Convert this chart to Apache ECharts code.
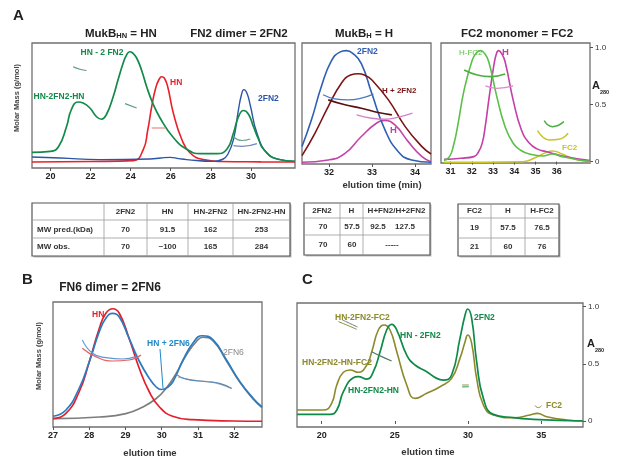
<!DOCTYPE html>
<html><head><meta charset="utf-8">
<script src="https://cdn.jsdelivr.net/npm/echarts@6/dist/echarts.min.js"></script>
<style>html,body{margin:0;padding:0;background:#fff}#c{width:617px;height:463px}</style>
</head><body><div id="c"></div>
<script>
// ---------- Panel A (left): MukB_HN / FN2 dimer ----------
const aTicks = [20, 22, 24, 26, 28, 30];
const aGreen = [[19.08,0.125],[20.0,0.133],[20.4,0.17],[20.8,0.33],[21.05,0.47],[21.38,0.528],[21.63,0.52],[21.97,0.48],[22.3,0.41],[22.55,0.39],[22.8,0.43],[23.13,0.57],[23.38,0.71],[23.63,0.84],[23.8,0.905],[23.95,0.93],[24.1,0.92],[24.3,0.88],[24.55,0.78],[24.8,0.65],[25.1,0.52],[25.47,0.40],[26.1,0.25],[26.8,0.15],[27.47,0.115],[28.3,0.115],[28.8,0.15],[29.13,0.28],[29.38,0.41],[29.63,0.46],[29.88,0.43],[30.13,0.33],[30.38,0.23],[30.63,0.15],[31.3,0.072],[32.2,0.053]];
const aRed = [[19.08,0.048],[22.0,0.052],[24.13,0.059],[24.63,0.147],[24.85,0.3],[25.05,0.49],[25.25,0.64],[25.42,0.71],[25.55,0.73],[25.68,0.72],[25.85,0.65],[26.13,0.44],[26.55,0.23],[26.97,0.12],[27.63,0.067],[28.5,0.052],[30.5,0.049],[32.2,0.048]];
const aBlue = [[19.08,0.088],[20.5,0.08],[22.47,0.067],[24.97,0.072],[25.5,0.08],[25.97,0.085],[26.4,0.075],[26.8,0.067],[28.13,0.053],[28.6,0.07],[28.85,0.11],[29.13,0.227],[29.38,0.467],[29.52,0.58],[29.65,0.627],[29.8,0.6],[29.97,0.5],[30.3,0.28],[30.8,0.12],[31.47,0.067],[32.2,0.053]];
const aFragG1 = [[21.13,0.81],[21.47,0.79],[21.8,0.78]];
const aFragG2 = [[23.72,0.515],[24.3,0.48]];
const aFragR = [[25.05,0.32],[25.75,0.32]];
const aFragG3 = [[29.13,0.248],[29.55,0.22],[29.97,0.232]];
const aFragB = [[29.13,0.179],[29.55,0.173],[30.3,0.195]];

// ---------- Panel A (middle): MukB_H ----------
const bTicks = [32, 33, 34];
const bBlue = [[31.37,0.144],[31.59,0.365],[31.82,0.64],[32.05,0.85],[32.25,0.925],[32.4,0.937],[32.55,0.915],[32.75,0.83],[32.99,0.586],[33.3,0.282],[33.61,0.102],[33.92,0.033],[34.37,0.014]];
const bDark = [[31.37,0.069],[31.67,0.254],[31.98,0.475],[32.29,0.67],[32.5,0.735],[32.68,0.746],[32.85,0.73],[32.99,0.696],[33.38,0.53],[33.77,0.309],[34.16,0.144],[34.37,0.083]];
const bMag = [[31.37,0.014],[31.98,0.033],[32.37,0.088],[32.75,0.227],[33.1,0.337],[33.3,0.359],[33.53,0.323],[33.84,0.185],[34.16,0.061],[34.37,0.019]];
const bFragB = [[31.86,0.572],[32.13,0.539],[32.44,0.53],[32.75,0.544],[33.03,0.577]];
const bFragD = [[31.98,0.53],[32.37,0.489],[32.75,0.461],[33.14,0.425],[33.46,0.406]];
const bFragM = [[32.64,0.406],[32.99,0.378],[33.3,0.37],[33.61,0.387],[33.94,0.42]];

// ---------- Panel A (right): FC2 monomer, A280 ----------
const cTicks = [31, 32, 33, 34, 35, 36];
const aTicksA280 = [0, 0.5, 1];
const cGreen = [[30.69,0.009],[30.95,0.044],[31.15,0.15],[31.33,0.307],[31.64,0.629],[32.02,0.89],[32.22,0.955],[32.41,0.974],[32.6,0.95],[32.8,0.877],[33.18,0.57],[33.57,0.307],[33.95,0.161],[34.3,0.1],[34.72,0.067],[35.34,0.05],[35.8,0.067],[36.26,0.044],[37.03,0.015],[37.58,0.003]];
const cMag = [[30.69,0.02],[31.5,0.03],[32.1,0.044],[32.3,0.08],[32.49,0.16],[32.65,0.33],[32.8,0.54],[33.03,0.833],[33.15,0.94],[33.26,0.974],[33.4,0.95],[33.57,0.877],[33.95,0.54],[34.34,0.278],[34.72,0.161],[35.1,0.11],[35.49,0.088],[36.26,0.05],[37.58,0.009]];
const cYel = [[30.69,-0.006],[34.41,0],[35.03,0.038],[35.49,0.079],[35.8,0.094],[36.26,0.067],[36.88,0.02],[37.58,0]];
const cFragG = [[31.64,0.804],[32.26,0.76],[32.87,0.746],[33.57,0.769]];
const cFragM = [[32.64,0.664],[33.18,0.643],[33.95,0.664]];
const cFragG2 = [[35.41,0.36],[35.8,0.307],[36.34,0.351]];
const cFragY = [[35.1,0.272],[35.65,0.19],[36.1,0.196],[36.54,0.249]];

// ---------- Panel B: FN6 dimer ----------
const dTicks = [27, 28, 29, 30, 31, 32];
const dRed = [[27.0,0.067],[27.35,0.107],[27.72,0.28],[28.0,0.52],[28.28,0.79],[28.46,0.91],[28.65,0.946],[28.83,0.91],[29.1,0.71],[29.38,0.47],[29.66,0.28],[29.94,0.16],[30.3,0.086],[30.86,0.059],[31.97,0.048],[32.77,0.046]];
const dBlue = [[27.0,0.086],[27.35,0.134],[27.72,0.308],[28.0,0.52],[28.28,0.764],[28.46,0.87],[28.65,0.909],[28.83,0.88],[29.1,0.71],[29.38,0.528],[29.66,0.389],[29.85,0.32],[29.99,0.30],[30.15,0.315],[30.31,0.362],[30.59,0.536],[30.86,0.67],[31.12,0.73],[31.42,0.697],[31.79,0.536],[32.16,0.362],[32.53,0.228],[32.77,0.16]];
const dGray = [[27.0,0.067],[28.28,0.08],[29.01,0.107],[29.48,0.16],[29.85,0.228],[30.12,0.308],[30.4,0.429],[30.68,0.576],[30.96,0.684],[31.14,0.718],[31.42,0.689],[31.79,0.528],[32.16,0.357],[32.53,0.223],[32.77,0.155]];
const dFragB1 = [[27.81,0.697],[28.09,0.59],[28.46,0.555],[28.92,0.544],[29.29,0.563]];
const dFragR1 = [[27.81,0.63],[28.18,0.563],[28.65,0.528],[29.1,0.536],[29.43,0.576]];
const dFragB2 = [[30.4,0.421],[30.68,0.383],[31.23,0.362],[31.6,0.349],[31.93,0.308]];
const dFragG2 = [[30.45,0.4],[30.86,0.375],[31.42,0.357],[31.93,0.31]];

// ---------- Panel C ----------
const eTicks = [20, 25, 30, 35];
const eOlive = [[18.31,0.096],[20.11,0.096],[20.68,0.155],[21.03,0.315],[21.48,0.426],[21.94,0.446],[22.5,0.426],[23.08,0.49],[23.42,0.606],[23.87,0.796],[24.26,0.84],[24.67,0.796],[25.13,0.606],[25.81,0.315],[26.38,0.198],[27.18,0.242],[28.09,0.3],[28.88,0.373],[29.45,0.548],[29.8,0.694],[29.98,0.752],[30.25,0.679],[30.59,0.373],[31.05,0.14],[31.73,0.052],[33.1,0.029],[34.24,0.052],[34.74,0.067],[35.38,0.038],[36.74,0.009],[37.86,0]];
const eGreen = [[18.31,0.058],[20.57,0.058],[21.03,0.096],[21.48,0.257],[22.16,0.379],[22.5,0.388],[23.08,0.367],[23.53,0.431],[23.99,0.606],[24.44,0.796],[24.78,0.845],[25.13,0.796],[25.81,0.577],[26.38,0.49],[27.18,0.431],[27.86,0.373],[28.31,0.358],[28.88,0.402],[29.45,0.723],[29.8,0.927],[29.98,0.98],[30.25,0.898],[30.59,0.519],[31.05,0.198],[31.73,0.058],[33.1,0.029],[34.47,0.015],[37.86,0]];
const eFragO1 = [[21.14,0.869],[21.71,0.84],[22.39,0.802]];
const eFragO2 = [[21.4,0.885],[21.9,0.855],[22.45,0.822]];
const eFragG = [[23.42,0.606],[24.1,0.563],[24.78,0.525]];
const eFragEq1 = [[29.6,0.315],[30.05,0.315]];
const eFragEq2 = [[29.6,0.298],[30.05,0.3]];
const eFragF = [[34.58,0.134],[34.81,0.117],[35.03,0.134]];

// ---------- Tables ----------
const t1Head = ['', '2FN2', 'HN', 'HN-2FN2', 'HN-2FN2-HN'];
const t1Pred = ['MW pred.(kDa)', '70', '91.5', '162', '253'];
const t1Obs = ['MW obs.', '70', '~100', '165', '284'];
const t2Head = ['2FN2', 'H', 'H+FN2/H+2FN2'];
const t2Pred = ['70', '57.5', '92.5', '127.5'];
const t2Obs = ['70', '60', '-----'];
const t3Head = ['FC2', 'H', 'H-FC2'];
const t3Pred = ['19', '57.5', '76.5'];
const t3Obs = ['21', '60', '76'];

const FONT = 'Arial, "Liberation Sans", Helvetica, sans-serif';

function ln(data, gi, color, width, z) {
  return {type: 'line', data: data, xAxisIndex: gi, yAxisIndex: gi, showSymbol: false, symbol: 'none',
    smooth: 0.5, lineStyle: {color: color, width: width}, z: z || 2, silent: true, animation: false};
}
function grid(l, t, w, h) {
  return {left: l, top: t, width: w, height: h, show: true, borderColor: '#707070', borderWidth: 1.3, backgroundColor: 'transparent'};
}
function xa(gi, min, max, ticks) {
  return {type: 'value', gridIndex: gi, min: min, max: max, axisLine: {show: false},
    axisTick: {show: true, length: 3, customValues: ticks, lineStyle: {color: '#555', width: 1}},
    axisLabel: {customValues: ticks, fontSize: 9, fontWeight: 'bold', color: '#222', fontFamily: FONT, margin: 4},
    splitLine: {show: false}};
}
function yHidden(gi) {
  return {type: 'value', gridIndex: gi, min: 0, max: 1, show: false};
}
function yRight(gi, min, max) {
  return {type: 'value', gridIndex: gi, min: min, max: max, position: 'right', axisLine: {show: false},
    axisTick: {show: true, length: 3, customValues: aTicksA280, lineStyle: {color: '#555'}},
    axisLabel: {customValues: aTicksA280, formatter: function (v) { return v === 0 ? '0' : v.toFixed(1); },
      fontSize: 8, color: '#333', fontFamily: FONT, margin: 5},
    splitLine: {show: false}};
}
function tx(x, y, text, o) {
  o = o || {};
  return {type: 'text', x: x, y: y, rotation: o.rot || 0, z: 100, silent: true,
    style: {text: text, fill: o.c || '#222', fontSize: o.fs || 8.5, fontWeight: o.fw || 'bold', fontFamily: FONT,
      align: o.al || 'center', verticalAlign: o.va || 'middle', textAlign: o.al || 'center', textVerticalAlign: o.va || 'middle',
      rich: o.rich}};
}
function lineG(x1, y1, x2, y2, c, w) {
  return {type: 'line', z: 90, silent: true, shape: {x1: x1, y1: y1, x2: x2, y2: y2}, style: {stroke: c, lineWidth: w}};
}
function table(cols, rows) {
  const els = [];
  const l = cols[0], r = cols[cols.length - 1], t = rows[0], b = rows[rows.length - 1];
  els.push({type: 'rect', z: 80, shape: {x: l + 1.5, y: t + 1.5, width: r - l, height: b - t}, style: {fill: '#bbb'}});
  els.push({type: 'rect', z: 81, shape: {x: l, y: t, width: r - l, height: b - t}, style: {fill: '#fff', stroke: '#555', lineWidth: 1.2}});
  for (let i = 1; i < rows.length - 1; i++) els.push(lineG(l, rows[i], r, rows[i], '#999', 0.8));
  cols.slice(1, -1).forEach(function (x) { els.push(lineG(x, t, x, b, '#999', 0.8)); });
  return els;
}

const tfs = {fs: 8, c: '#333'};
const graphics = [];
graphics.push(tx(13, 16, 'A', {fs: 15, al: 'left', c: '#222'}));
graphics.push(tx(22, 280, 'B', {fs: 15, al: 'left', c: '#222'}));
graphics.push(tx(302, 280, 'C', {fs: 15, al: 'left', c: '#222'}));
const sub = {s: {fontSize: 7.5, fontWeight: 'bold', fontFamily: FONT, fill: '#222', verticalAlign: 'bottom', padding: [3, 0, 0, 0]},
             m: {fontSize: 11.5, fontWeight: 'bold', fontFamily: FONT, fill: '#222'}};
graphics.push(tx(85, 34, '{m|MukB}{s|HN}{m| = HN}', {al: 'left', rich: sub}));
graphics.push(tx(239, 34, 'FN2 dimer = 2FN2', {fs: 11.5}));
graphics.push(tx(335, 34, '{m|MukB}{s|H}{m| = H}', {al: 'left', rich: sub}));
graphics.push(tx(517, 34, 'FC2 monomer = FC2', {fs: 11.5}));
graphics.push(tx(110, 288, 'FN6 dimer = 2FN6', {fs: 12}));
graphics.push(tx(17, 98, 'Molar Mass (g/mol)', {rot: Math.PI / 2, fs: 7.5, c: '#444'}));
graphics.push(tx(39, 356, 'Molar Mass (g/mol)', {rot: Math.PI / 2, fs: 7.5, c: '#444'}));
graphics.push(tx(382, 185, 'elution time (min)', {fs: 9.5, c: '#333'}));
graphics.push(tx(150, 453, 'elution time', {fs: 9.5, c: '#333'}));
graphics.push(tx(428, 452, 'elution time', {fs: 9.5, c: '#333'}));
graphics.push(tx(592, 86, 'A', {fs: 11, al: 'left', c: '#222'}));
graphics.push(tx(600, 92, '280', {fs: 5.5, al: 'left', c: '#222'}));
graphics.push(tx(587, 344, 'A', {fs: 11, al: 'left', c: '#222'}));
graphics.push(tx(595, 350, '280', {fs: 5.5, al: 'left', c: '#222'}));
graphics.push(tx(102, 53, 'HN - 2 FN2', {c: '#138a4a'}));
graphics.push(tx(59, 97, 'HN-2FN2-HN', {c: '#138a4a'}));
graphics.push(tx(170, 83, 'HN', {al: 'left', c: '#e8212a'}));
graphics.push(tx(258, 99, '2FN2', {al: 'left', c: '#2d55a5'}));
graphics.push(tx(357, 52, '2FN2', {al: 'left', c: '#2f5fb3'}));
graphics.push(tx(382, 91, 'H + 2FN2', {al: 'left', c: '#7b1416', fs: 8}));
graphics.push(tx(390, 130, 'H', {al: 'left', c: '#c443a8', fs: 9.5}));
graphics.push(tx(459, 53, 'H-FC2', {al: 'left', c: '#5cbf4a', fs: 8, fw: 'normal'}));
graphics.push(tx(502, 52, 'H', {al: 'left', c: '#c43fa6', fs: 9.5}));
graphics.push(tx(562, 148, 'FC2', {al: 'left', c: '#c9c526', fs: 8}));
graphics.push(tx(92, 315, 'HN', {al: 'left', c: '#e31e2d'}));
graphics.push(tx(147, 344, 'HN + 2FN6', {al: 'left', c: '#1f88c8'}));
graphics.push(lineG(160, 349, 163, 388, '#1f88c8', 1));
graphics.push(tx(223, 353, '2FN6', {al: 'left', c: '#888', fw: 'normal', fs: 8.5}));
graphics.push(tx(335, 318, 'HN-2FN2-FC2', {al: 'left', c: '#8c8a2c'}));
graphics.push(tx(400, 336, 'HN - 2FN2', {al: 'left', c: '#0f8a48'}));
graphics.push(tx(474, 318, '2FN2', {al: 'left', c: '#0f8a48'}));
graphics.push(tx(302, 363, 'HN-2FN2-HN-FC2', {al: 'left', c: '#8c8a2c'}));
graphics.push(tx(348, 391, 'HN-2FN2-HN', {al: 'left', c: '#0f8a48'}));
graphics.push(tx(546, 406, 'FC2', {al: 'left', c: '#8c8a2c'}));

const t1Cols = [32, 104, 147, 188, 233, 290];
const t1Rows = [203, 220, 238, 256];
graphics.push.apply(graphics, table(t1Cols, t1Rows));
[t1Head, t1Pred, t1Obs].forEach(function (row, ri) {
  const y = [212, 230, 247][ri];
  row.forEach(function (v, ci) {
    if (ci === 0) graphics.push(tx(37, y, v, Object.assign({al: 'left'}, tfs)));
    else graphics.push(tx((t1Cols[ci] + t1Cols[ci + 1]) / 2, y, v, tfs));
  });
});
const t2Cols = [304, 340, 363, 430];
const t2Rows = [203, 218, 235, 255];
graphics.push.apply(graphics, table(t2Cols, t2Rows));
t2Head.forEach(function (v, ci) { graphics.push(tx((t2Cols[ci] + t2Cols[ci + 1]) / 2, 211, v, tfs)); });
[323, 352, 378, 405].forEach(function (x, i) { graphics.push(tx(x, 227, t2Pred[i], tfs)); });
[323, 352, 392].forEach(function (x, i) { graphics.push(tx(x, 245, t2Obs[i], tfs)); });
const t3Cols = [458, 491, 525, 559];
const t3Rows = [204, 218, 238, 256];
graphics.push.apply(graphics, table(t3Cols, t3Rows));
[t3Head, t3Pred, t3Obs].forEach(function (row, ri) {
  const y = [211, 228, 247][ri];
  row.forEach(function (v, ci) { graphics.push(tx((t3Cols[ci] + t3Cols[ci + 1]) / 2, y, v, tfs)); });
});

const option = {
  animation: false,
  backgroundColor: '#fff',
  grid: [grid(32, 43, 263, 125), grid(302, 43, 129, 121), grid(441, 43, 149, 120), grid(53, 302, 209, 125), grid(297, 303, 286, 124)],
  xAxis: [xa(0, 19.08, 32.2, aTicks), xa(1, 31.37, 34.37, bTicks), xa(2, 30.55, 37.57, cTicks), xa(3, 27, 32.77, dTicks), xa(4, 18.31, 37.86, eTicks)],
  yAxis: [yHidden(0), yHidden(1), yRight(2, -0.012, 1.041), yHidden(3), yRight(4, -0.0525, 1.0324)],
  series: [
    ln(aRed, 0, '#e8212a', 1.6), ln(aBlue, 0, '#2d55a5', 1.4), ln(aGreen, 0, '#138a4a', 1.7),
    ln(aFragG1, 0, '#5e9a80', 1.2), ln(aFragG2, 0, '#5e9a80', 1.2), ln(aFragR, 0, '#e87070', 1.2),
    ln(aFragG3, 0, '#6aa58a', 1.2), ln(aFragB, 0, '#7088c0', 1.2),
    ln(bMag, 1, '#c443a8', 1.6), ln(bBlue, 1, '#2f5fb3', 1.6), ln(bDark, 1, '#7b1416', 1.6),
    ln(bFragB, 1, '#4a78c0', 1.3), ln(bFragD, 1, '#5a1010', 1.6), ln(bFragM, 1, '#d580c8', 1.3),
    ln(cYel, 2, '#c9c526', 1.5), ln(cMag, 2, '#c43fa6', 1.6), ln(cGreen, 2, '#5cbf4a', 1.6),
    ln(cFragG, 2, '#4cae40', 1.6), ln(cFragM, 2, '#d78ccb', 1.3), ln(cFragG2, 2, '#4cae40', 1.5), ln(cFragY, 2, '#c9c526', 1.5),
    ln(dGray, 3, '#7d7d7d', 1.6), ln(dRed, 3, '#e31e2d', 1.7), ln(dBlue, 3, '#2b7bbf', 1.7),
    ln(dFragR1, 3, '#e86060', 1.2), ln(dFragB1, 3, '#5a9ad0', 1.2), ln(dFragG2, 3, '#aaaaaa', 1.2), ln(dFragB2, 3, '#5a8ab8', 1.2),
    ln(eOlive, 4, '#8c8a2c', 1.6), ln(eGreen, 4, '#0f8a48', 1.7),
    ln(eFragO1, 4, '#8c8a2c', 1), ln(eFragO2, 4, '#6a8070', 1), ln(eFragG, 4, '#507a68', 1.2),
    ln(eFragEq1, 4, '#8c8a2c', 1), ln(eFragEq2, 4, '#0f8a48', 1), ln(eFragF, 4, '#8c8a2c', 1)
  ],
  graphic: graphics
};
const chart = echarts.init(document.getElementById('c'), null, {renderer: 'canvas'});
chart.setOption(option);
</script></body></html>
